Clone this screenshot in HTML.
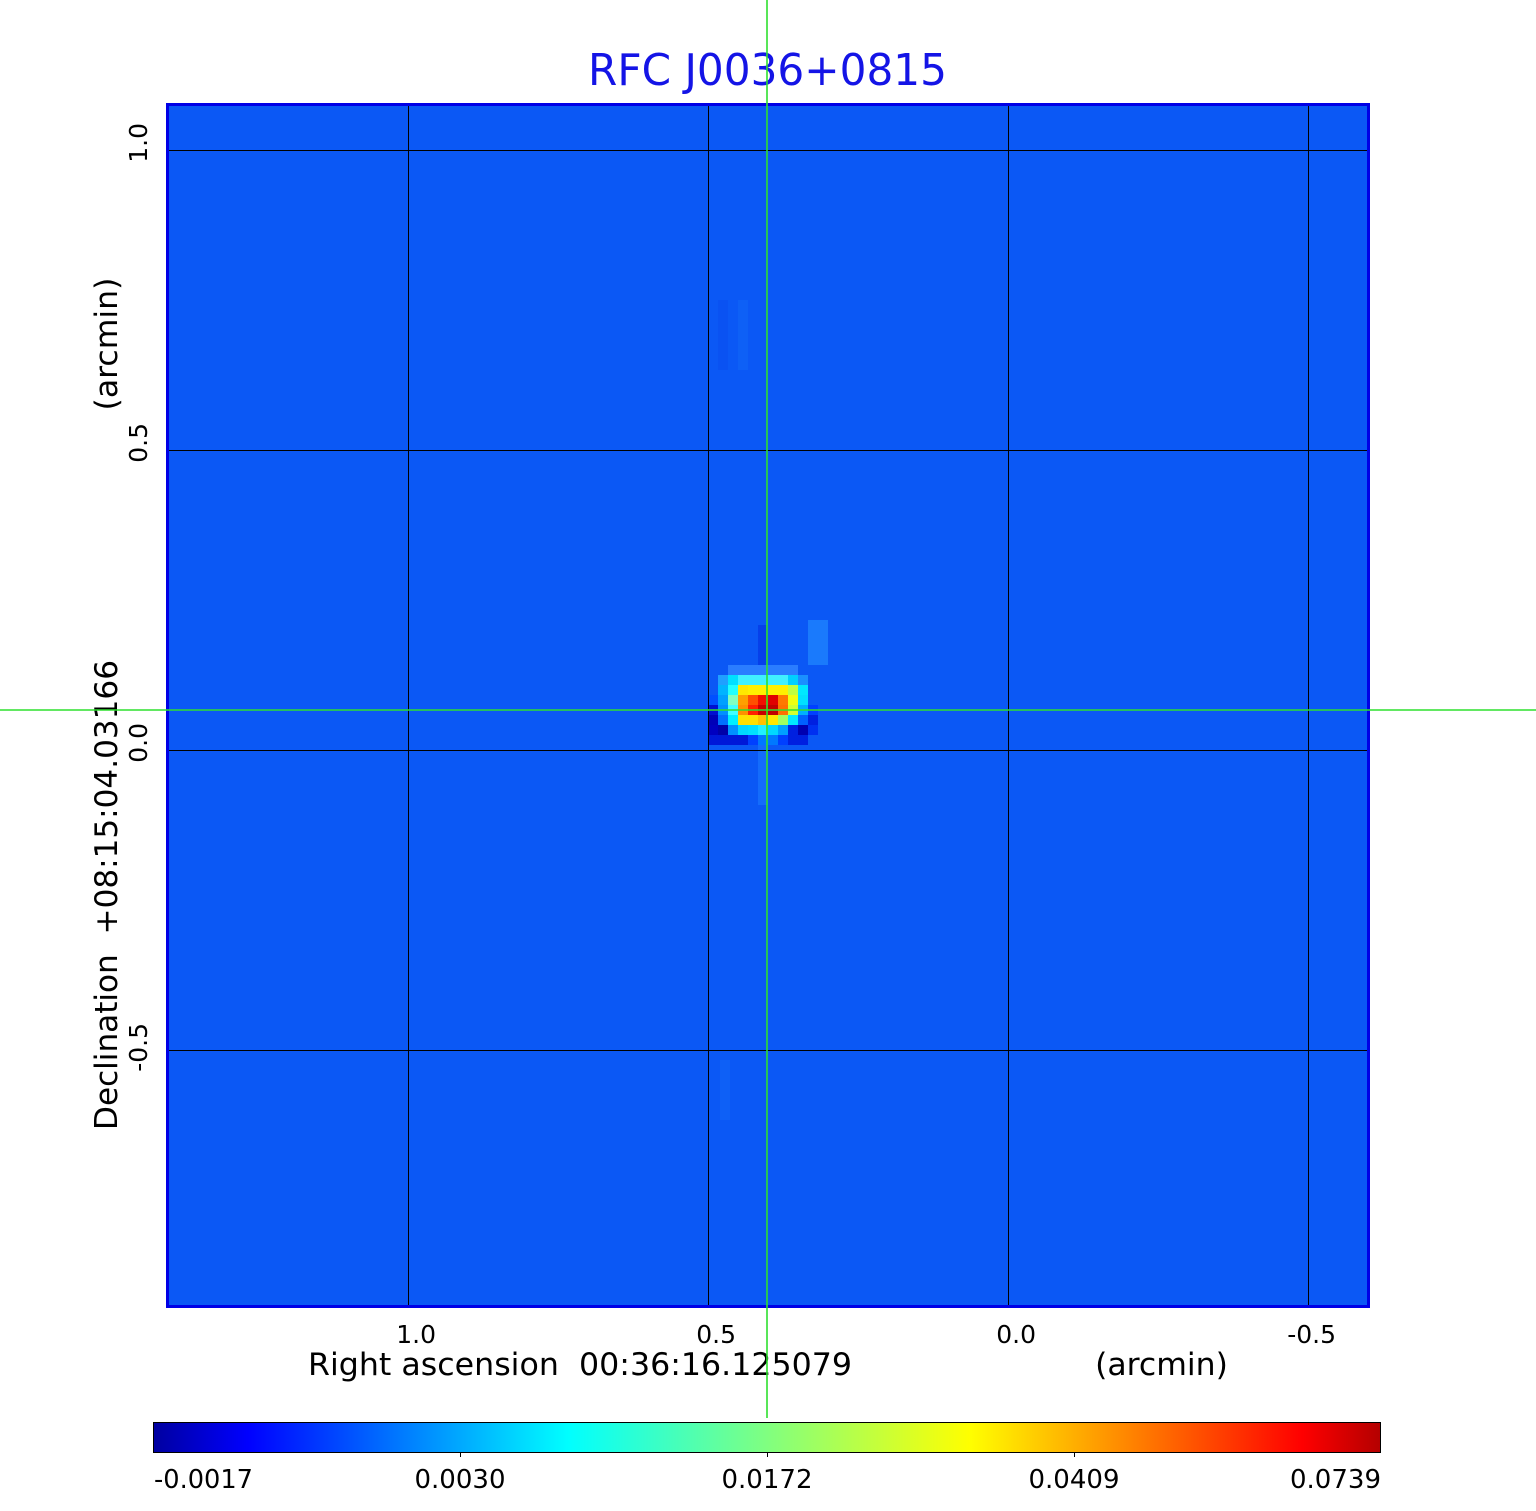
<!DOCTYPE html>
<html>
<head>
<meta charset="utf-8">
<style>
html,body{margin:0;padding:0;background:#fff;}
svg{display:block;}
text{font-family:"DejaVu Sans","Liberation Sans",sans-serif;}
</style>
</head>
<body>
<svg width="1536" height="1511" viewBox="0 0 1536 1511" xmlns="http://www.w3.org/2000/svg">
<defs>
<linearGradient id="jet" x1="0" y1="0" x2="1" y2="0">
<stop offset="0" stop-color="#0000a0"/>
<stop offset="0.077" stop-color="#0000ff"/>
<stop offset="0.338" stop-color="#00ffff"/>
<stop offset="0.5" stop-color="#80ff80"/>
<stop offset="0.665" stop-color="#ffff00"/>
<stop offset="0.936" stop-color="#ff0000"/>
<stop offset="1" stop-color="#b40000"/>
</linearGradient>
</defs>
<rect width="1536" height="1511" fill="#fff"/>

<!-- heatmap base -->
<rect x="168" y="105" width="1200" height="1200" fill="#0b58f5"/>
<!-- streaks around source -->
<rect x="718" y="300" width="10" height="70" fill="#0a52f2"/>
<rect x="738" y="300" width="10" height="70" fill="#0e60f6"/>
<rect x="758" y="625" width="10" height="40" fill="#0640ea"/>
<rect x="808" y="620" width="20" height="45" fill="#1a7afc"/>
<rect x="758" y="745" width="10" height="60" fill="#146cfb"/>
<rect x="720" y="1060" width="10" height="60" fill="#0e60f6"/>

<!-- source blob -->
<g>
<rect x="728" y="665" width="70" height="10" fill="#2a7dff"/>
<rect x="718" y="675" width="10" height="10" fill="#1fa0ff"/>
<rect x="728" y="675" width="10" height="10" fill="#00e0ff"/>
<rect x="738" y="675" width="50" height="10" fill="#40f0ff"/>
<rect x="788" y="675" width="10" height="10" fill="#00d0ff"/>
<rect x="798" y="675" width="10" height="10" fill="#1a90ff"/>

<rect x="718" y="685" width="10" height="10" fill="#00b4ff"/>
<rect x="728" y="685" width="10" height="10" fill="#20ffff"/>
<rect x="738" y="685" width="10" height="10" fill="#ffe800"/>
<rect x="748" y="685" width="40" height="10" fill="#fff000"/>
<rect x="788" y="685" width="10" height="10" fill="#c0ff40"/>
<rect x="798" y="685" width="10" height="10" fill="#00e8ff"/>

<rect x="708" y="695" width="10" height="10" fill="#0050ff"/>
<rect x="718" y="695" width="10" height="10" fill="#00a0ff"/>
<rect x="728" y="695" width="10" height="10" fill="#80ffc0"/>
<rect x="738" y="695" width="10" height="10" fill="#ffa000"/>
<rect x="748" y="695" width="10" height="10" fill="#ff5000"/>
<rect x="758" y="695" width="10" height="10" fill="#f01000"/>
<rect x="768" y="695" width="10" height="10" fill="#e00000"/>
<rect x="778" y="695" width="10" height="10" fill="#ff7800"/>
<rect x="788" y="695" width="10" height="10" fill="#f0ff10"/>
<rect x="798" y="695" width="10" height="10" fill="#00e0ff"/>

<rect x="708" y="705" width="10" height="10" fill="#0010d0"/>
<rect x="718" y="705" width="10" height="10" fill="#0090ff"/>
<rect x="728" y="705" width="10" height="10" fill="#40ffff"/>
<rect x="738" y="705" width="10" height="10" fill="#ff9000"/>
<rect x="748" y="705" width="10" height="10" fill="#ff2000"/>
<rect x="758" y="705" width="10" height="10" fill="#c80000"/>
<rect x="768" y="705" width="10" height="10" fill="#c00000"/>
<rect x="778" y="705" width="10" height="10" fill="#ff7000"/>
<rect x="788" y="705" width="10" height="10" fill="#d0ff30"/>
<rect x="798" y="705" width="10" height="10" fill="#00b0ff"/>
<rect x="808" y="705" width="10" height="10" fill="#0040ff"/>

<rect x="708" y="715" width="10" height="10" fill="#0000b8"/>
<rect x="718" y="715" width="10" height="10" fill="#0070ff"/>
<rect x="728" y="715" width="10" height="10" fill="#00f0ff"/>
<rect x="738" y="715" width="20" height="10" fill="#ffe000"/>
<rect x="758" y="715" width="10" height="10" fill="#ffc000"/>
<rect x="768" y="715" width="10" height="10" fill="#ffe800"/>
<rect x="778" y="715" width="10" height="10" fill="#a0ff60"/>
<rect x="788" y="715" width="10" height="10" fill="#00e8ff"/>
<rect x="798" y="715" width="10" height="10" fill="#0060ff"/>
<rect x="808" y="715" width="10" height="10" fill="#0020e0"/>

<rect x="708" y="725" width="10" height="10" fill="#0000c0"/>
<rect x="718" y="725" width="10" height="10" fill="#0000a8"/>
<rect x="728" y="725" width="10" height="10" fill="#0090ff"/>
<rect x="738" y="725" width="10" height="10" fill="#00d8ff"/>
<rect x="748" y="725" width="10" height="10" fill="#00e0ff"/>
<rect x="758" y="725" width="10" height="10" fill="#20f0ff"/>
<rect x="768" y="725" width="10" height="10" fill="#00d8ff"/>
<rect x="778" y="725" width="10" height="10" fill="#00a0ff"/>
<rect x="788" y="725" width="10" height="10" fill="#0020e0"/>
<rect x="798" y="725" width="10" height="10" fill="#0000b0"/>
<rect x="808" y="725" width="10" height="10" fill="#0030f0"/>

<rect x="708" y="735" width="40" height="10" fill="#0018d8"/>
<rect x="748" y="735" width="10" height="10" fill="#0040ff"/>
<rect x="758" y="735" width="20" height="10" fill="#0078ff"/>
<rect x="778" y="735" width="10" height="10" fill="#0040ff"/>
<rect x="788" y="735" width="20" height="10" fill="#0020e0"/>
</g>

<!-- grid lines -->
<g stroke="#000" stroke-width="1">
<line x1="408.5" y1="106" x2="408.5" y2="1305"/>
<line x1="708.5" y1="106" x2="708.5" y2="1305"/>
<line x1="1008.5" y1="106" x2="1008.5" y2="1305"/>
<line x1="1308.5" y1="106" x2="1308.5" y2="1305"/>
<line x1="169" y1="150.5" x2="1367" y2="150.5"/>
<line x1="169" y1="450.5" x2="1367" y2="450.5"/>
<line x1="169" y1="750.5" x2="1367" y2="750.5"/>
<line x1="169" y1="1050.5" x2="1367" y2="1050.5"/>
</g>

<!-- frame -->
<rect x="167.5" y="104.5" width="1201" height="1202" fill="none" stroke="#0000e6" stroke-width="3"/>

<!-- title -->
<text x="767.5" y="85" font-size="44" fill="#1414e6" text-anchor="middle" textLength="359" lengthAdjust="spacingAndGlyphs">RFC J0036+0815</text>

<!-- x tick labels -->
<g font-size="25" fill="#000" text-anchor="end">
<text x="436" y="1343">1.0</text>
<text x="736" y="1343">0.5</text>
<text x="1036" y="1343">0.0</text>
<text x="1336" y="1343">-0.5</text>
</g>
<!-- x axis titles -->
<text x="308" y="1375" font-size="31.5" fill="#000" textLength="544" lengthAdjust="spacingAndGlyphs" xml:space="preserve">Right ascension  00:36:16.125079</text>
<text x="1161.5" y="1375" font-size="31.5" fill="#000" text-anchor="middle">(arcmin)</text>

<!-- y tick labels -->
<g font-size="25" fill="#000" text-anchor="end">
<text transform="translate(147,123) rotate(-90)">1.0</text>
<text transform="translate(147,423) rotate(-90)">0.5</text>
<text transform="translate(147,723) rotate(-90)">0.0</text>
<text transform="translate(147,1023) rotate(-90)">-0.5</text>
</g>
<!-- y axis titles -->
<text transform="translate(117,1130) rotate(-90)" font-size="31" fill="#000" textLength="470" lengthAdjust="spacingAndGlyphs" xml:space="preserve">Declination  +08:15:04.03166</text>
<text transform="translate(117,344) rotate(-90)" font-size="31.5" fill="#000" text-anchor="middle">(arcmin)</text>

<!-- colorbar -->
<rect x="153.5" y="1422.5" width="1227" height="30" fill="url(#jet)" stroke="#000" stroke-width="1"/>
<g stroke="#000" stroke-width="1">
<line x1="460.5" y1="1453" x2="460.5" y2="1457"/>
<line x1="767.5" y1="1453" x2="767.5" y2="1457"/>
<line x1="1074.5" y1="1453" x2="1074.5" y2="1457"/>
</g>
<g font-size="26" fill="#000">
<text x="154" y="1488" textLength="99" lengthAdjust="spacingAndGlyphs">-0.0017</text>
<text x="460" y="1488" text-anchor="middle" textLength="91" lengthAdjust="spacingAndGlyphs">0.0030</text>
<text x="767" y="1488" text-anchor="middle" textLength="91" lengthAdjust="spacingAndGlyphs">0.0172</text>
<text x="1074" y="1488" text-anchor="middle" textLength="91" lengthAdjust="spacingAndGlyphs">0.0409</text>
<text x="1381" y="1488" text-anchor="end" textLength="91" lengthAdjust="spacingAndGlyphs">0.0739</text>
</g>

<!-- green crosshair -->
<g stroke="#2ee02e" stroke-width="1.6">
<line x1="767" y1="0" x2="767" y2="1418"/>
<line x1="0" y1="710" x2="1536" y2="710"/>
</g>
</svg>
</body>
</html>
